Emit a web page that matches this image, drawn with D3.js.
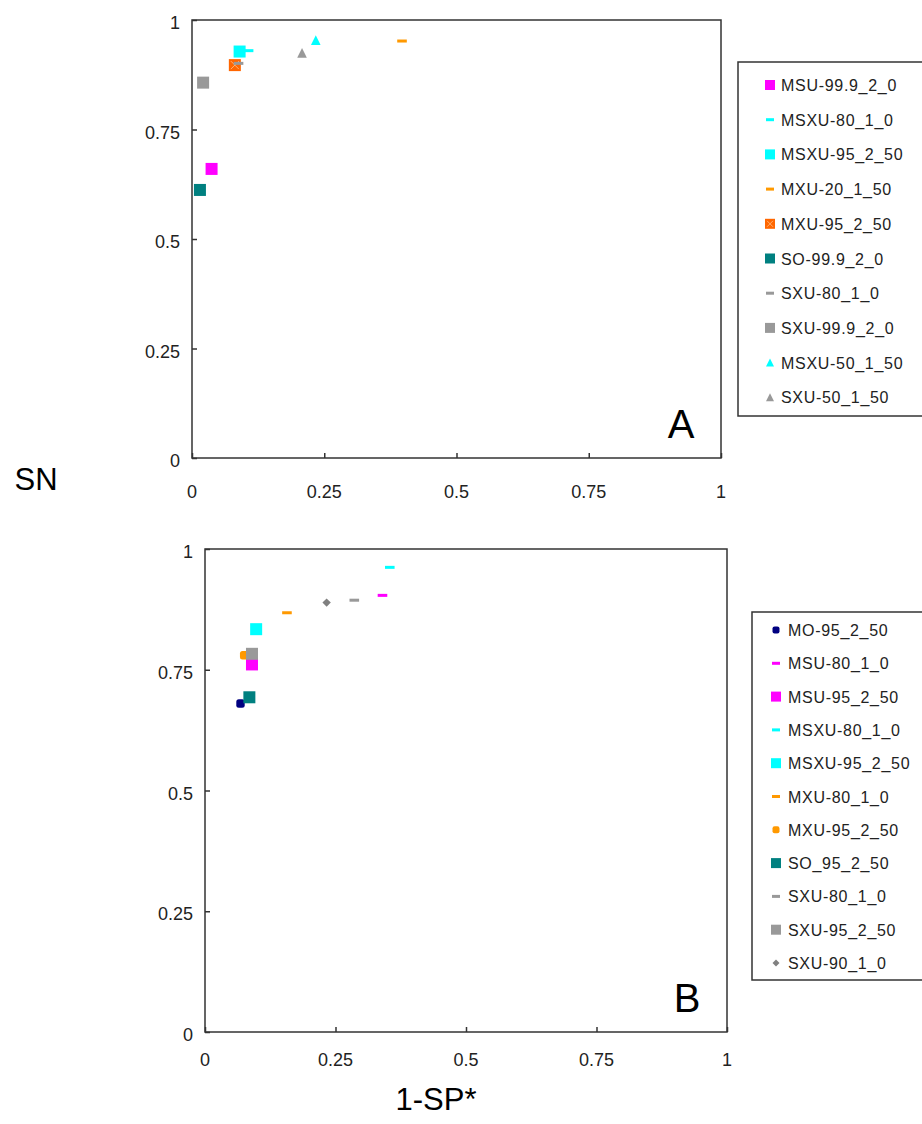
<!DOCTYPE html>
<html>
<head>
<meta charset="utf-8">
<script src="https://cdn.jsdelivr.net/npm/d3@7"></script>
<style>
  body { margin: 0; background: #fff; }
  svg { display: block; font-family: "Liberation Sans", Arial, sans-serif; }
</style>
</head>
<body>
<svg id="chart" width="922" height="1124"></svg>
<script>
// Axis ticks shared by both panels
const tickValues = [0, 0.25, 0.5, 0.75, 1];
const tickLabels = ['0', '0.25', '0.5', '0.75', '1'];

// Panel A data (1-SP*, SN)
const seriesA = ['MSU-99.9_2_0', 'MSXU-80_1_0', 'MSXU-95_2_50', 'MXU-20_1_50', 'MXU-95_2_50',
                 'SO-99.9_2_0', 'SXU-80_1_0', 'SXU-99.9_2_0', 'MSXU-50_1_50', 'SXU-50_1_50'];
const fprA = [0.037, 0.107, 0.090, 0.397, 0.081, 0.015, 0.088, 0.021, 0.234, 0.208];
const snA  = [0.660, 0.930, 0.928, 0.952, 0.897, 0.612, 0.901, 0.857, 0.954, 0.925];

// Panel B data (1-SP*, SN)
const seriesB = ['MO-95_2_50', 'MSU-80_1_0', 'MSU-95_2_50', 'MSXU-80_1_0', 'MSXU-95_2_50', 'MXU-80_1_0',
                 'MXU-95_2_50', 'SO_95_2_50', 'SXU-80_1_0', 'SXU-95_2_50', 'SXU-90_1_0'];
const fprB = [0.068, 0.340, 0.090, 0.354, 0.098, 0.157, 0.075, 0.085, 0.286, 0.090, 0.233];
const snB  = [0.680, 0.904, 0.761, 0.962, 0.834, 0.868, 0.780, 0.693, 0.894, 0.783, 0.889];

// marker styles, by panel and series
const stylesA = {
  'MSU-99.9_2_0': { shape: 'square', color: '#ff00ff' },
  'MSXU-80_1_0':  { shape: 'dash', color: '#00ffff' },
  'MSXU-95_2_50': { shape: 'square', color: '#00ffff' },
  'MXU-20_1_50':  { shape: 'dash', color: '#ff9900' },
  'MXU-95_2_50':  { shape: 'squarex', color: '#ff6600' },
  'SO-99.9_2_0':  { shape: 'square', color: '#008080' },
  'SXU-80_1_0':   { shape: 'dash', color: '#999999' },
  'SXU-99.9_2_0': { shape: 'square', color: '#999999' },
  'MSXU-50_1_50': { shape: 'tri', color: '#00ffff' },
  'SXU-50_1_50':  { shape: 'tri', color: '#999999' }
};
const stylesB = {
  'MO-95_2_50':   { shape: 'round', color: '#000080' },
  'MSU-80_1_0':   { shape: 'dash', color: '#ff00ff' },
  'MSU-95_2_50':  { shape: 'square', color: '#ff00ff' },
  'MSXU-80_1_0':  { shape: 'dash', color: '#00ffff' },
  'MSXU-95_2_50': { shape: 'square', color: '#00ffff' },
  'MXU-80_1_0':   { shape: 'dash', color: '#ff9900' },
  'MXU-95_2_50':  { shape: 'round', color: '#ff9900' },
  'SO_95_2_50':   { shape: 'square', color: '#008080' },
  'SXU-80_1_0':   { shape: 'dash', color: '#999999' },
  'SXU-95_2_50':  { shape: 'square', color: '#999999' },
  'SXU-90_1_0':   { shape: 'diamond', color: '#808080' }
};

const svg = d3.select('#chart');

function drawMarker(g, x, y, st, s) {
    // s = nominal marker size in px
    if (st.shape === 'square' || st.shape === 'squarex') {
        g.append('rect').attr('x', x - s / 2).attr('y', y - s / 2)
            .attr('width', s).attr('height', s).attr('fill', st.color);
        if (st.shape === 'squarex') {
            const h = s / 2 - 2;
            g.append('path')
                .attr('d', `M${x - h},${y - h}L${x + h},${y + h}M${x + h},${y - h}L${x - h},${y + h}`)
                .attr('stroke', '#ffb070').attr('stroke-width', 1);
        }
    } else if (st.shape === 'dash') {
        g.append('rect').attr('x', x - s * 0.4).attr('y', y - 1.5)
            .attr('width', s * 0.8).attr('height', 3).attr('fill', st.color);
    } else if (st.shape === 'tri') {
        const h = s * 0.8;
        g.append('path')
            .attr('d', `M${x},${y - h / 2}L${x + h / 2},${y + h / 2}L${x - h / 2},${y + h / 2}Z`)
            .attr('fill', st.color);
    } else if (st.shape === 'round') {
        const r = s * 0.35;
        g.append('rect').attr('x', x - r).attr('y', y - r)
            .attr('width', 2 * r).attr('height', 2 * r).attr('rx', r * 0.6)
            .attr('fill', st.color);
    } else if (st.shape === 'diamond') {
        const r = s * 0.35;
        g.append('path')
            .attr('d', `M${x},${y - r}L${x + r},${y}L${x},${y + r}L${x - r},${y}Z`)
            .attr('fill', st.color);
    }
}

function drawPanel(p) {
    const x = d3.scaleLinear().domain([0, 1]).range([p.left, p.right]);
    const y = d3.scaleLinear().domain([0, 1]).range([p.bottom, p.top]);
    const g = svg.append('g');

    // frame
    g.append('rect')
        .attr('x', p.left).attr('y', p.top)
        .attr('width', p.right - p.left).attr('height', p.bottom - p.top)
        .attr('fill', 'none').attr('stroke', '#333').attr('stroke-width', 1.5);

    // inner ticks
    const xAxis = g.append('g')
        .attr('transform', `translate(0,${p.bottom})`)
        .call(d3.axisBottom(x).tickValues(tickValues).tickSize(-5).tickFormat(''));
    const yAxis = g.append('g')
        .attr('transform', `translate(${p.left},0)`)
        .call(d3.axisLeft(y).tickValues(tickValues).tickSize(-5).tickFormat(''));
    [xAxis, yAxis].forEach(a => {
        a.select('.domain').remove();
        a.selectAll('line').attr('stroke', '#333').attr('stroke-width', 1.5);
    });

    // tick labels
    g.selectAll('.xl').data(tickValues).enter().append('text')
        .attr('x', d => x(d)).attr('y', p.bottom + p.xLabelGap)
        .attr('text-anchor', 'middle')
        .style('font-size', '18px').style('fill', '#222')
        .text((d, i) => tickLabels[i]);
    g.selectAll('.yl').data(tickValues).enter().append('text')
        .attr('x', p.left - 12).attr('y', d => y(d) + 9)
        .attr('text-anchor', 'end')
        .style('font-size', '18px').style('fill', '#222')
        .text((d, i) => tickLabels[i]);

    // points
    const pts = g.append('g');
    p.series.forEach((name, i) => {
        drawMarker(pts, x(p.fpr[i]), y(p.sn[i]), p.styles[name], 12);
    });

    // panel letter
    g.append('text')
        .attr('x', p.right - 40).attr('y', p.bottom - 20)
        .attr('text-anchor', 'middle')
        .style('font-size', '40px').style('fill', '#000')
        .text(p.letter);

    // legend
    const lg = g.append('g');
    lg.append('rect')
        .attr('x', p.legX).attr('y', p.legY)
        .attr('width', 922 - p.legX + 5).attr('height', p.legH)
        .attr('fill', '#fff').attr('stroke', '#333').attr('stroke-width', 1.5);
    p.series.forEach((name, i) => {
        const yy = p.legY + p.legFirst + i * p.legStep;
        drawMarker(lg, p.legX + p.legMarker, yy, p.styles[name], 10);
        lg.append('text')
            .attr('x', p.legX + p.legText).attr('y', yy + 6)
            .style('font-size', '16px').style('letter-spacing', '0.7px').style('fill', '#222')
            .text(name);
    });
}

drawPanel({
    series: seriesA, fpr: fprA, sn: snA, styles: stylesA, letter: 'A',
    left: 192, right: 721, top: 20, bottom: 458, xLabelGap: 40,
    legX: 738, legY: 62, legH: 354, legFirst: 23, legStep: 34.7, legMarker: 32, legText: 43
});
drawPanel({
    series: seriesB, fpr: fprB, sn: snB, styles: stylesB, letter: 'B',
    left: 205, right: 727, top: 549, bottom: 1032, xLabelGap: 34,
    legX: 752, legY: 612, legH: 368, legFirst: 18, legStep: 33.3, legMarker: 24, legText: 36
});

// axis titles
svg.append('text')
    .attr('x', 36).attr('y', 490)
    .attr('text-anchor', 'middle')
    .style('font-size', '31px').style('fill', '#000')
    .text('SN');
svg.append('text')
    .attr('x', 436).attr('y', 1110)
    .attr('text-anchor', 'middle')
    .style('font-size', '31px').style('fill', '#000')
    .text('1-SP*');
</script>
</body>
</html>
